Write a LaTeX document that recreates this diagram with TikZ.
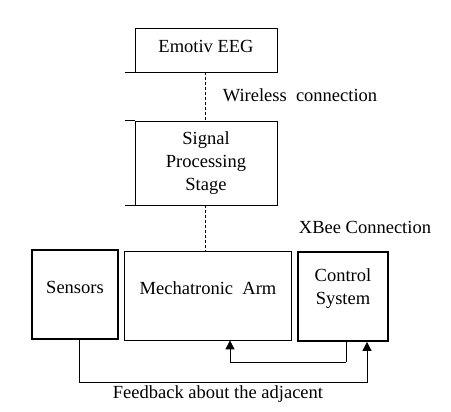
\documentclass[tikz,border=0pt]{standalone}
\usepackage{fontspec}
\setmainfont{Liberation Serif}
\usetikzlibrary{arrows.meta}
\begin{document}
\begin{tikzpicture}[x=1pt,y=-1pt,
  every node/.style={font=\fontsize{18.5}{23}\selectfont},
  box/.style={draw,line width=0.8pt,inner sep=0pt,align=center},
  thickbox/.style={box,line width=1.8pt},
  conn/.style={line width=0.8pt},
  dashconn/.style={line width=0.8pt,dash pattern=on 3pt off 2pt},
  arr/.style={line width=0.8pt,-{Triangle[width=9pt,length=9pt]}},
  txt/.style={inner sep=0pt}]
\useasboundingbox (0,0) rectangle (451,412);
\node[box,minimum width=142pt,minimum height=44pt] (eeg) at (206,50) {};
\node[txt] (eegt) at (206,46) {Emotiv EEG};
\node[box,minimum width=142pt,minimum height=84pt] (spc) at (206,163) {Signal\\Processing\\Stage};
\node[thickbox,minimum width=86pt,minimum height=89pt] (sens) at (75,294.5) {};
\node[txt] (senst) at (75,287) {Sensors};
\node[box,minimum width=167pt,minimum height=89pt] (arm) at (207.5,295.5) {};
\node[txt] (armt) at (208,288) {Mechatronic\ \ Arm};
\node[thickbox,minimum width=90pt,minimum height=89pt] (ctrl) at (343,296.5) {};
\node[txt,align=center] (ctrlt) at (343,288.5) {Control\\System};
\node[txt] (wl) at (300,95) {Wireless\ \ connection};
\node[txt] (xb) at (365,227) {XBee Connection};
\node[txt] (fb) at (218,394) {Feedback about the adjacent};
% left ticks
\draw[conn] (eeg.south west) -- ++(-10,0);
\draw[conn] (spc.north west) -- ++(-10,0);
\draw[conn] (spc.south west) -- ++(-10,0);
% dashed connections
\draw[dashconn] (eeg.south -| 205,0) -- (spc.north -| 205,0);
\draw[dashconn] (spc.south -| 205,0) -- (arm.north -| 205,0);
% arrows
\coordinate (c1) at (346,362);
\coordinate (c2) at (230,362);
\draw[conn] (ctrl.south -| c1) -- (c1);
\draw[arr] (c1) -- (c2) -- (arm.south -| c2);
\coordinate (s1) at (79,382);
\coordinate (s2) at (367,382);
\draw[arr] (sens.south -| s1) -- (s1) -- (s2) -- (ctrl.south -| s2);
\end{tikzpicture}
\end{document}
